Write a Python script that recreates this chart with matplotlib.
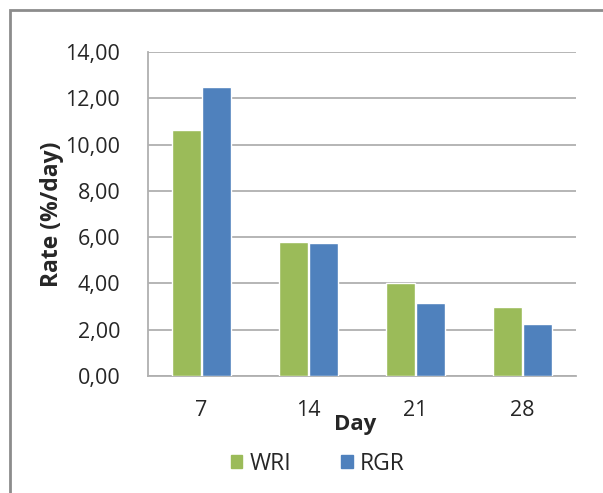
import numpy as np
import matplotlib.pyplot as plt
from matplotlib.patches import Rectangle, Patch

days = ['7', '14', '21', '28']
wri = [10.64, 5.81, 4.01, 2.98]
rgr = [12.48, 5.75, 3.16, 2.26]
yticks = [0, 2, 4, 6, 8, 10, 12, 14]

plt.rcParams['font.family'] = ['Open Sans', 'DejaVu Sans']
txt = '#262626'
grid = '#b0b0b0'

fig = plt.figure(figsize=(6.03, 4.93), dpi=100)
ax = fig.add_axes([0.2454, 0.2373, 0.7098, 0.6572])

x = np.arange(len(days))
w = 0.27
ax.bar(x - w/2 - 0.005, wri, w, color='#9BBB59', edgecolor='white', linewidth=1, zorder=3, label='WRI')
ax.bar(x + w/2 + 0.005, rgr, w, color='#4F81BD', edgecolor='white', linewidth=1, zorder=3, label='RGR')

ax.set_xlim(-0.5, 3.5)
ax.set_ylim(0, 14)
ax.set_yticks(yticks)
ax.set_yticklabels(['%d,00' % v for v in yticks])
ax.set_xticks(x)
ax.set_xticklabels(days)
ax.yaxis.grid(True, color=grid, linewidth=1.3, zorder=0)
ax.tick_params(length=0, labelsize=15.5, colors=txt)
ax.tick_params(axis='y', pad=20)
ax.tick_params(axis='x', pad=17)

for s in ['top', 'right']:
    ax.spines[s].set_visible(False)
for s in ['left', 'bottom']:
    ax.spines[s].set_color(grid)
    ax.spines[s].set_linewidth(1.3)

ax.set_ylabel('Rate (%/day)', fontsize=16.5, fontweight='bold', color=txt, labelpad=1)
ax.set_xlabel('Day', fontsize=16, fontweight='bold', color=txt, labelpad=-5, x=0.484)

handles = [Patch(color='#9BBB59', label='WRI'), Patch(color='#4F81BD', label='RGR')]
fig.legend(handles=handles, loc='center', bbox_to_anchor=(0.527, 0.059), ncol=2,
           frameon=False, fontsize=16.5, handlelength=0.5, handleheight=0.5,
           handletextpad=0.3, columnspacing=2.2, labelcolor=txt)

# outer chart frame
fig.patches.append(Rectangle((10/603, -0.1), 1.2, 1 - 10/493 + 0.1, transform=fig.transFigure,
                             fill=False, edgecolor='#8c8c8c', linewidth=2))

fig.savefig('out.png', dpi=100)
